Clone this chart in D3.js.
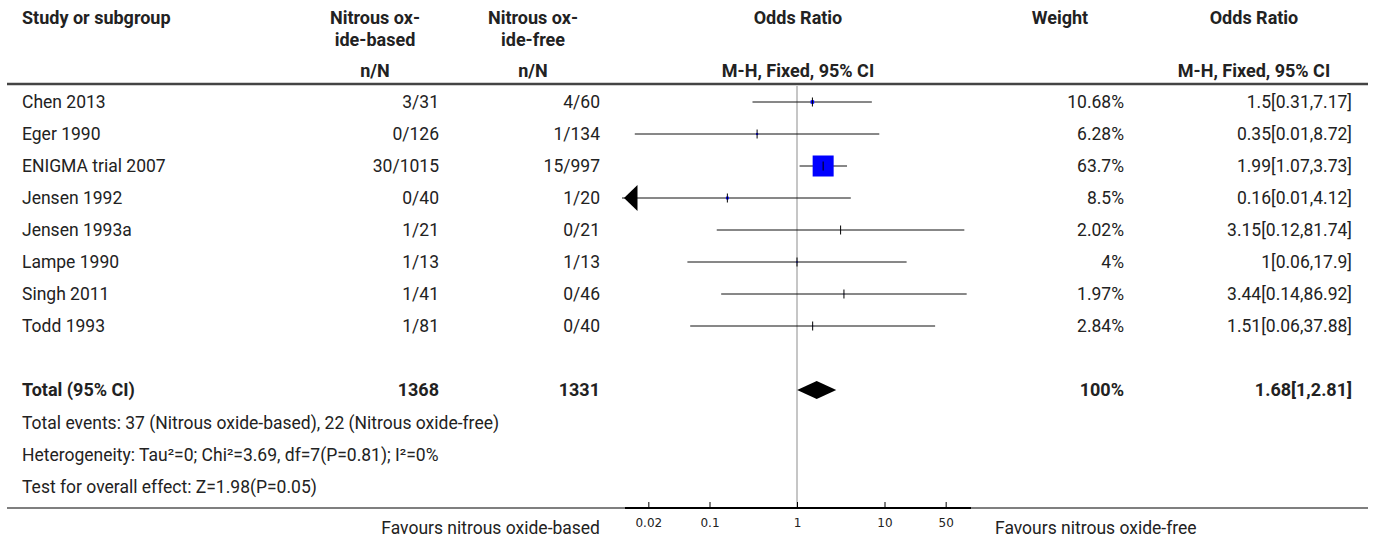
<!DOCTYPE html>
<html>
<head>
<meta charset="utf-8">
<script src="https://cdn.jsdelivr.net/npm/d3@7"></script>
<style>
  html, body { margin: 0; padding: 0; background: #fff; }
  svg { display: block; }
  text { font-family: Roboto, "Noto Sans", sans-serif; fill: #222; }
  .bold { font-weight: bold; }
  .tick text { font-family: "DejaVu Sans", sans-serif; }
</style>
</head>
<body>
<svg id="chart" width="1375" height="537"></svg>
<script>
// Nitrous oxide-based vs nitrous oxide-free anaesthesia: per-study results
const studies = ["Chen 2013", "Eger 1990", "ENIGMA trial 2007", "Jensen 1992",
                 "Jensen 1993a", "Lampe 1990", "Singh 2011", "Todd 1993"];
const basedEvents = [3, 0, 30, 0, 1, 1, 1, 1];
const basedTotal  = [31, 126, 1015, 40, 21, 13, 41, 81];
const freeEvents  = [4, 1, 15, 1, 0, 1, 0, 0];
const freeTotal   = [60, 134, 997, 20, 21, 13, 46, 40];
const oddsRatio   = [1.5, 0.35, 1.99, 0.16, 3.15, 1, 3.44, 1.51];
const ciLower     = [0.31, 0.014, 1.07, 0.0062, 0.121, 0.0559, 0.136, 0.0602];
const ciUpper     = [7.17, 8.72, 3.73, 4.12, 81.74, 17.9, 86.92, 37.88];
const weights     = [10.68, 6.28, 63.7, 8.5, 2.02, 4, 1.97, 2.84];

// Pooled (fixed effect, Mantel-Haenszel) estimate
const pooledOR = 1.68, pooledLower = 1.004, pooledUpper = 2.81, pooledWeight = 100;

const tickValues = [0.02, 0.1, 1, 10, 50];
const axisDomain = [0.01, 100];

const footnotes = [
  "Total events: " + d3.sum(basedEvents) + " (Nitrous oxide-based), " + d3.sum(freeEvents) + " (Nitrous oxide-free)",
  "Heterogeneity: Tau\u00b2=0; Chi\u00b2=3.69, df=7(P=0.81); I\u00b2=0%",
  "Test for overall effect: Z=1.98(P=0.05)"
];

const svg = d3.select("#chart");
const fs = 17.5, fsBold = 18;

const x = d3.scaleLog().domain(axisDomain).range([622, 972]);
const rowY = d3.scalePoint().domain(d3.range(studies.length)).range([102, 326]);
const yTotal = 390;
const footY = [423, 455, 487];
const headerRule = 84, bottomRule = 508;

const col = { study: 22, basedHead: 375, based: 439, freeHead: 533, free: 600,
              orHead: 798, weightHead: 1060, weight: 1124, orRightHead: 1254, orRight: 1352 };

const fmt = v => String(+v.toFixed(2));
const orLabel = (o, l, u) => fmt(o) + "[" + fmt(l) + "," + fmt(u) + "]";

function txt(xp, yp, s, anchor, bold) {
  return svg.append("text").attr("x", xp).attr("y", yp).attr("dy", "0.35em")
    .attr("text-anchor", anchor || "start").attr("font-size", bold ? fsBold : fs)
    .classed("bold", !!bold).text(s);
}

// Header
txt(col.study, 18, "Study or subgroup", "start", true);
txt(col.basedHead, 18, "Nitrous ox-", "middle", true);
txt(col.basedHead, 40, "ide-based", "middle", true);
txt(col.freeHead, 18, "Nitrous ox-", "middle", true);
txt(col.freeHead, 40, "ide-free", "middle", true);
txt(col.orHead, 18, "Odds Ratio", "middle", true);
txt(col.weightHead, 18, "Weight", "middle", true);
txt(col.orRightHead, 18, "Odds Ratio", "middle", true);
txt(col.basedHead, 71, "n/N", "middle", true);
txt(col.freeHead, 71, "n/N", "middle", true);
txt(col.orHead, 71, "M-H, Fixed, 95% CI", "middle", true);
txt(col.orRightHead, 71, "M-H, Fixed, 95% CI", "middle", true);

svg.append("line").attr("x1", 7).attr("x2", 1368).attr("y1", headerRule).attr("y2", headerRule)
  .attr("stroke", "#444").attr("stroke-width", 2.5);

// Line of no effect
svg.append("line").attr("x1", x(1)).attr("x2", x(1)).attr("y1", headerRule + 2).attr("y2", bottomRule)
  .attr("stroke", "#a0a0a0").attr("stroke-width", 1.2);

// Study rows
const boxSize = d3.scaleLinear().domain([0, d3.max(weights)]).range([0, 21]);
studies.forEach((name, i) => {
  const y = rowY(i);
  txt(col.study, y, name);
  txt(col.based, y, basedEvents[i] + "/" + basedTotal[i], "end");
  txt(col.free, y, freeEvents[i] + "/" + freeTotal[i], "end");
  txt(col.weight, y, weights[i] + "%", "end");
  txt(col.orRight, y, orLabel(oddsRatio[i], ciLower[i], ciUpper[i]), "end");

  const lo = Math.max(ciLower[i], axisDomain[0]);
  const hi = Math.min(ciUpper[i], axisDomain[1]);
  svg.append("line").attr("x1", x(lo)).attr("x2", x(hi)).attr("y1", y).attr("y2", y)
    .attr("stroke", "#111").attr("stroke-width", 1);
  if (ciLower[i] < axisDomain[0]) {
    const tip = x(axisDomain[0]) + 2;
    svg.append("path").attr("d", `M${tip},${y}L${tip + 13.5},${y - 13}L${tip + 13.5},${y + 13}Z`).attr("fill", "#000");
  }
  const s = boxSize(weights[i]);
  svg.append("rect").attr("x", x(oddsRatio[i]) - s / 2).attr("y", y - s / 2)
    .attr("width", s).attr("height", s).attr("fill", "#0000ff");
  svg.append("line").attr("x1", x(oddsRatio[i])).attr("x2", x(oddsRatio[i]))
    .attr("y1", y - 4.5).attr("y2", y + 4.5).attr("stroke", "#000").attr("stroke-width", 1);
});

// Total row
txt(col.study, yTotal, "Total (95% CI)", "start", true);
txt(col.based, yTotal, d3.sum(basedTotal), "end", true);
txt(col.free, yTotal, d3.sum(freeTotal), "end", true);
txt(col.weight, yTotal, pooledWeight + "%", "end", true);
txt(col.orRight, yTotal, orLabel(pooledOR, pooledLower, pooledUpper), "end", true);
svg.append("path")
  .attr("d", `M${x(pooledLower)},${yTotal}L${x(pooledOR)},${yTotal - 9}L${x(pooledUpper)},${yTotal}L${x(pooledOR)},${yTotal + 9}Z`)
  .attr("fill", "#000");

footnotes.forEach((s, i) => txt(col.study, footY[i], s));

// Bottom rule and axis
svg.append("line").attr("x1", 7).attr("x2", 1368).attr("y1", bottomRule).attr("y2", bottomRule)
  .attr("stroke", "#555").attr("stroke-width", 1.5);
const axis = d3.axisBottom(x).tickValues(tickValues).tickFormat(d => String(d))
  .tickSizeInner(-6).tickSizeOuter(0).tickPadding(10);
const ag = svg.append("g").attr("transform", `translate(0,${bottomRule})`).call(axis);
ag.select(".domain").attr("stroke", "#000").attr("stroke-width", 2)
  .attr("d", `M${x(axisDomain[0]) + 3},0H${x(axisDomain[1]) - 1}`);
ag.selectAll(".tick line").attr("stroke", "#000");
ag.selectAll(".tick text").attr("font-size", 12).attr("fill", "#222");

txt(col.free, 528, "Favours nitrous oxide-based", "end");
txt(995, 528, "Favours nitrous oxide-free", "start");
</script>
</body>
</html>
